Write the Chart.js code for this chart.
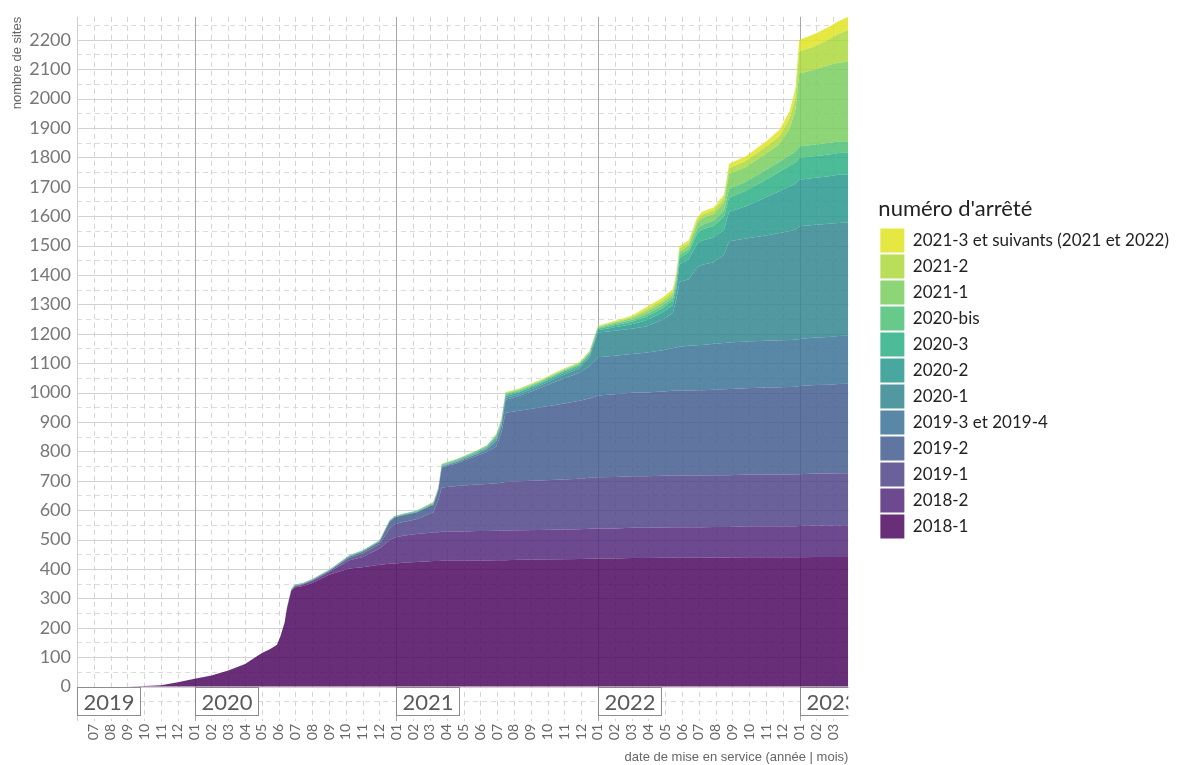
<!DOCTYPE html>
<html lang="fr">
<head>
<meta charset="utf-8">
<title>Sites mis en service par numéro d'arrêté</title>
<script src="https://cdn.jsdelivr.net/npm/chart.js@4.4.1/dist/chart.umd.min.js"></script>
<style>
  html, body { margin: 0; padding: 0; background: #fff; }
  #wrap { width: 1179px; height: 765px; }
</style>
</head>
<body>
<div id="wrap"><canvas id="chart" width="1179" height="765"></canvas></div>
<script>
// mois écoulés depuis le 1er juin 2019
const months = [0, 3, 4, 5, 6, 7, 8, 9, 10, 11,
  11.5, 11.9, 12.1, 12.35, 12.5, 12.75, 12.95, 13.45, 14, 15,
  16.2, 17, 18, 18.6, 18.9, 19.4, 20.2, 21, 21.2, 21.5,
  21.7, 22.6, 23.8, 24.4, 24.95, 25.25, 25.5, 26.3, 27.5, 28.9,
  29.9, 30.5, 30.9, 31, 32, 33, 33.85, 34.85, 35.45, 35.65,
  35.85, 36.4, 36.9, 37.2, 37.9, 38.5, 38.8, 39.8, 41, 41.8,
  42.4, 42.75, 42.97, 43.95, 44.75, 45.3, 45.9];

// nombre de sites en service (cumulé) par arrêté
const a2018_1 = [0,0,2,5,15,27,38,55,77,114, 128,142,170,217,268,326,337,342,352,380, 402,406,414,418,419,421,424,426,427,427, 428,428,429,429,430,430,430,431,432,433, 434,435,436,436,436,437,437,438,438,438, 438,438,438,438,439,439,439,440,440,440, 440,440,440,441,441,441,441];
const a2018_2 = [0,0,0,0,0,0,0,0,0,0, 0,0,0,0,0,2,3,5,7,10, 28,35,56,80,88,92,95,97,98,98, 99,99,100,100,100,100,101,101,101,101, 101,102,102,102,102,103,103,103,104,104, 104,104,104,104,104,104,104,105,105,105, 105,105,106,107,107,108,108];
const a2019_1 = [0,0,0,0,0,0,0,0,0,0, 0,0,0,0,0,0,2,2,3,3, 8,12,15,40,45,47,50,65,68,110, 150,155,158,160,162,163,165,166,168,170, 172,173,174,174,175,175,175,176,176,176, 176,176,176,176,176,176,176,176,176,176, 176,176,176,177,177,177,177];
const a2019_2 = [0,0,0,0,0,0,0,0,0,0, 0,0,0,0,0,0,0,0,0,0, 4,6,8,23,23,23,23,25,25,32, 68,78,98,110,125,170,235,240,248,258, 265,270,276,278,281,284,285,287,288,288, 288,289,290,290,291,292,293,294,296,297, 298,299,300,301,302,303,304];
const a2019_3 = [0,0,0,0,0,0,0,0,0,0, 0,0,0,0,0,0,0,0,0,0, 0,0,0,0,0,0,1,2,2,2, 3,4,6,8,18,22,45,50,65,85, 95,110,125,130,131,132,135,140,145,147, 150,152,153,154,156,158,158,159,159,160, 160,160,160,161,162,163,163];
const a2020_1 = [0,0,0,0,0,0,0,0,0,0, 0,0,0,0,0,0,0,0,0,0, 0,0,0,0,0,0,0,0,0,1, 1,1,2,3,6,6,6,6,8,12, 16,30,75,84,85,86,90,104,120,160, 220,226,265,273,277,300,345,350,358,365, 370,375,384,384,385,385,385];
const a2020_2 = [0,0,0,0,0,0,0,0,0,0, 0,0,0,0,0,0,0,0,0,0, 0,0,0,0,0,0,0,0,0,0, 1,2,3,3,6,6,6,6,6,6, 6,7,8,8,12,15,20,25,27,35, 60,68,80,82,84,85,100,110,130,142, 152,155,158,160,162,164,164];
const a2020_3 = [0,0,0,0,0,0,0,0,0,0, 0,0,0,0,2,2,2,2,2,2, 2,2,2,2,2,2,2,2,2,2, 2,2,2,3,4,4,4,4,4,5, 5,5,5,5,7,9,12,14,15,17, 22,25,35,38,40,45,48,52,60,65, 70,72,74,74,74,74,74];
const a2020_bis = [0,0,0,0,0,0,0,0,0,0, 0,0,0,0,2,2,2,2,2,2, 3,3,3,3,3,3,3,3,3,3, 3,3,3,3,3,3,3,3,3,3, 3,3,3,3,5,6,8,9,10,10, 10,10,15,16,17,20,30,31,33,35, 36,38,39,39,39,39,39];
const a2021_1 = [0,0,0,0,0,0,0,0,0,0, 0,0,0,0,0,0,0,0,0,0, 0,0,0,0,0,0,0,1,1,1, 1,1,1,1,3,3,3,3,3,3, 3,3,3,3,4,6,9,10,10,10, 11,11,20,23,24,28,50,50,55,60, 90,140,248,255,265,268,270];
const a2021_2 = [0,0,0,0,0,0,0,0,0,0, 0,0,0,0,0,0,0,0,0,0, 0,0,0,0,0,0,0,1,1,1, 1,1,1,1,2,2,2,2,2,2, 2,2,2,2,3,4,8,9,9,9, 10,10,10,11,12,14,20,21,24,28, 35,45,74,80,88,98,108];
const a2021_3 = [0,0,0,0,0,0,0,0,0,0, 0,0,0,0,0,0,0,0,0,0, 0,0,0,0,0,0,0,1,1,1, 1,1,1,1,1,1,2,2,2,2, 2,2,2,2,3,4,7,8,9,9, 9,9,9,10,10,12,15,16,18,21, 24,30,40,42,42,43,45];

const seriesNames = ['2018-1', '2018-2', '2019-1', '2019-2', '2019-3 et 2019-4', '2020-1', '2020-2', '2020-3', '2020-bis', '2021-1', '2021-2', '2021-3 et suivants (2021 et 2022)'];
const seriesValues = [a2018_1, a2018_2, a2019_1, a2019_2, a2019_3, a2020_1, a2020_2, a2020_3, a2020_bis, a2021_1, a2021_2, a2021_3];
const colors = ['rgba(77,11,96,0.85)', 'rgba(84,42,123,0.85)', 'rgba(80,68,136,0.85)', 'rgba(69,93,144,0.85)',
  'rgba(59,115,149,0.85)', 'rgba(50,134,143,0.85)', 'rgba(40,153,143,0.85)', 'rgba(44,175,134,0.85)',
  'rgba(76,193,119,0.85)', 'rgba(121,206,95,0.85)', 'rgba(173,217,61,0.85)', 'rgba(224,228,34,0.85)'];

const monthLabels = ['07','08','09','10','11','12',
  '01','02','03','04','05','06','07','08','09','10','11','12',
  '01','02','03','04','05','06','07','08','09','10','11','12',
  '01','02','03','04','05','06','07','08','09','10','11','12',
  '01','02','03'];
const years = ['2019', '2020', '2021', '2022', '2023'];
const yearStarts = [0, 7, 19, 31, 43];
const yTicks = [0,100,200,300,400,500,600,700,800,900,1000,1100,1200,1300,1400,1500,1600,1700,1800,1900,2000,2100,2200];

// grille : pleine tous les 100 / années, pointillés tous les 50 / mois
const grille = {
  id: 'grille',
  beforeDatasetsDraw(chart) {
    const {ctx, chartArea: a, scales: {x, y}} = chart;
    ctx.save();
    ctx.lineWidth = 1;
    for (let v = -50; v <= 2250; v += 50) {
      const py = Math.round(y.getPixelForValue(v)) + 0.5;
      ctx.strokeStyle = v % 100 === 0 ? '#d2d2d2' : '#dcdcdc';
      ctx.setLineDash(v % 100 === 0 ? [] : [5, 4]);
      ctx.beginPath(); ctx.moveTo(a.left, py); ctx.lineTo(a.right, py); ctx.stroke();
    }
    monthLabels.forEach((lbl, i) => {
      const px = Math.round(x.getPixelForValue(i + 1)) + 0.5;
      const isYear = lbl === '01';
      ctx.strokeStyle = isYear ? '#a8a8a8' : '#d4d4d4';
      ctx.setLineDash(isYear ? [] : [5, 4]);
      ctx.beginPath(); ctx.moveTo(px, a.top); ctx.lineTo(px, a.bottom + 5); ctx.stroke();
    });
    ctx.setLineDash([]);
    ctx.strokeStyle = '#cfcfcf';
    const x0 = Math.round(a.left) + 0.5;
    ctx.beginPath(); ctx.moveTo(x0, a.top); ctx.lineTo(x0, a.bottom + 5); ctx.stroke();
    ctx.restore();
  }
};

// étiquettes des années sous le zéro
const annees = {
  id: 'annees',
  afterDatasetsDraw(chart) {
    const {ctx, chartArea: a, scales: {x, y}} = chart;
    const top = Math.round(y.getPixelForValue(0)) + 0.5;
    const bottom = Math.round(a.bottom) - 0.5;
    ctx.save();
    ctx.beginPath();
    ctx.rect(a.left, a.top, a.right - a.left, a.bottom - a.top + 1);
    ctx.clip();
    ctx.font = '22px Lato';
    ctx.textBaseline = 'middle';
    years.forEach((yr, i) => {
      const left = Math.round(x.getPixelForValue(yearStarts[i])) + 0.5;
      const w = Math.round(ctx.measureText(yr).width) + 12;
      ctx.fillStyle = '#fff';
      ctx.fillRect(left, top, w, bottom - top);
      ctx.strokeStyle = '#8c8c8c';
      ctx.strokeRect(left, top, w, bottom - top);
      ctx.fillStyle = '#5a5a5a';
      ctx.fillText(yr, left + 6, (top + bottom) / 2 + 1);
    });
    ctx.restore();
  }
};

const datasets = seriesNames.map((name, k) => ({
  label: name,
  data: months.map((m, i) => ({x: m, y: seriesValues[k][i]})),
  backgroundColor: colors[k],
  borderColor: 'rgba(0,0,0,0)',
  borderWidth: 0,
  pointRadius: 0,
  tension: 0,
  fill: k === 0 ? 'origin' : '-1'
}));

let ctx = document.getElementById('chart').getContext('2d');
let myChart = new Chart(ctx, {
  type: 'line',
  data: { datasets: datasets },
  plugins: [grille, annees],
  options: {
    responsive: false,
    animation: false,
    devicePixelRatio: 1,
    layout: { padding: { top: 8, right: 0, left: 0, bottom: 0 } },
    plugins: {
      legend: {
        position: 'right',
        align: 'start',
        reverse: true,
        maxWidth: 420,
        title: {
          display: true,
          text: "numéro d'arrêté",
          position: 'start',
          color: '#222',
          font: { family: 'Lato', size: 22 },
          padding: { top: 190, bottom: 2 }
        },
        labels: {
          boxWidth: 24,
          boxHeight: 24,
          padding: 2,
          color: '#222',
          font: { family: 'Lato', size: 17 }
        }
      },
      tooltip: { enabled: false }
    },
    scales: {
      x: {
        type: 'linear',
        min: 0,
        max: 45.9,
        grid: { display: false, drawTicks: true, tickLength: 6 },
        border: { display: false },
        afterBuildTicks: s => { s.ticks = monthLabels.map((l, i) => ({ value: i + 1 })); },
        afterFit: s => { s.height = 49; },
        ticks: {
          autoSkip: false,
          minRotation: 90,
          maxRotation: 90,
          padding: 2,
          color: '#666',
          font: { family: 'Lato', size: 14 },
          callback: (v, i) => monthLabels[i]
        },
        title: {
          display: true,
          text: 'date de mise en service (année | mois)',
          align: 'end',
          color: '#666',
          font: { family: 'Liberation Sans', size: 13 },
          padding: { top: 2, bottom: 0 }
        }
      },
      y: {
        stacked: true,
        min: -100,
        max: 2278,
        grid: { display: false, drawTicks: false },
        border: { display: false },
        afterBuildTicks: s => { s.ticks = yTicks.map(v => ({ value: v })); },
        afterFit: s => { s.width = 77; },
        ticks: { padding: 6, color: '#777', font: { family: 'Lato', size: 18 }, callback: v => String(v) },
        title: {
          display: true,
          text: 'nombre de sites',
          align: 'end',
          color: '#666',
          font: { family: 'Liberation Sans', size: 13 },
          padding: { top: 10, bottom: 0 }
        }
      },
      marge: {
        position: 'right',
        display: true,
        grid: { display: false, drawTicks: false },
        border: { display: false },
        ticks: { display: false },
        afterFit: s => { s.width = 30; }
      }
    }
  }
});
</script>
</body>
</html>
